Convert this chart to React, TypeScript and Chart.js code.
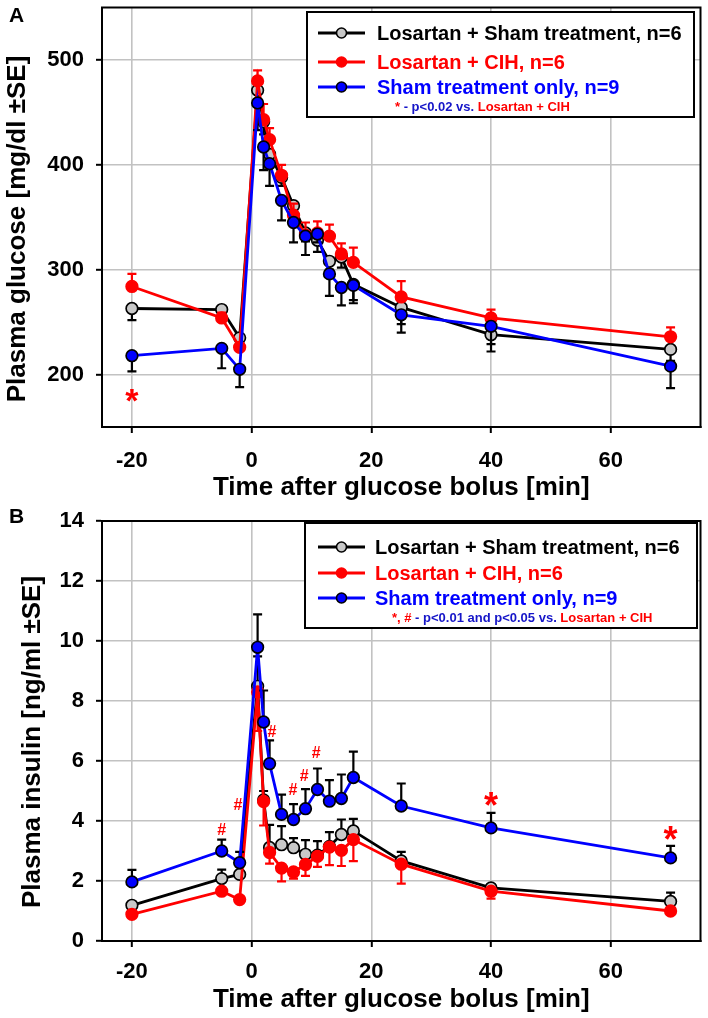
import React, { useEffect, useRef } from "react";
import { Chart, registerables } from "chart.js";

Chart.register(...registerables);

const FONT = "'Liberation Sans', Arial, Helvetica, sans-serif";

// ---------- data ----------
const times = [-20, -5, -2, 1, 2, 3, 5, 7, 9, 11, 13, 15, 17, 25, 40, 70];
const xTicks = [-20, 0, 20, 40, 60];

const seriesLabels = ["Losartan + Sham treatment, n=6", "Losartan + CIH, n=6", "Sham treatment only, n=9"];

// Panel A: plasma glucose [mg/dl]
const glucoseLosartanSham = [263, 262, 235, 471, 441, 410, 388, 361, 335, 328, 308, 312, 286, 264, 238, 224];
const glucoseLosartanShamSE = [11, 3, 5, 12, 12, 10, 8, 8, 8, 11, 8, 10, 18, 16, 9, 11];
const glucoseLosartanCIH = [284, 254, 226, 480, 443, 424, 390, 352, 333, 335, 332, 315, 307, 274, 254, 236];
const glucoseLosartanCIHSE = [12, 5, 4, 10, 15, 11, 10, 11, 12, 11, 11, 10, 14, 15, 8, 9];
const glucoseShamOnly = [218, 225, 205, 459, 417, 401, 366, 345, 332, 334, 296, 283, 285, 257, 246, 208];
const glucoseShamOnlySE = [15, 19, 17, 26, 22, 21, 19, 19, 18, 8, 21, 17, 14, 17, 24, 21];
const glucoseYTicks = [200, 300, 400, 500];
const glucoseStars = [{ x: -20, y: 183 }];

// Panel B: plasma insulin [ng/ml]
const insulinLosartanSham = [1.19, 2.08, 2.22, 8.49, 4.7, 3.12, 3.21, 3.11, 2.89, 2.86, 3.15, 3.55, 3.67, 2.67, 1.77, 1.32];
const insulinLosartanShamSE = [0.1, 0.3, 0.1, 1.0, 0.3, 0.75, 0.62, 0.32, 0.47, 0.47, 0.48, 0.5, 0.4, 0.3, 0.1, 0.29];
const insulinLosartanCIH = [0.89, 1.66, 1.38, 8.3, 4.65, 2.95, 2.43, 2.3, 2.55, 2.82, 3.13, 3.02, 3.38, 2.56, 1.66, 1.0];
const insulinLosartanCIHSE = [0.08, 0.08, 0.08, 1.3, 0.8, 0.37, 0.44, 0.22, 0.38, 0.35, 0.6, 0.52, 0.72, 0.65, 0.25, 0.05];
const insulinShamOnly = [1.97, 3.0, 2.61, 9.79, 7.3, 5.91, 4.22, 4.05, 4.41, 5.05, 4.66, 4.75, 5.45, 4.5, 3.77, 2.77];
const insulinShamOnlySE = [0.4, 0.38, 0.36, 1.1, 1.05, 0.78, 0.66, 0.51, 0.65, 0.7, 0.7, 0.8, 0.86, 0.75, 0.5, 0.4];
const insulinYTicks = [0, 2, 4, 6, 8, 10, 12, 14];
const insulinStars = [{ x: 40, y: 4.78 }, { x: 70, y: 3.65 }];
const insulinHashes = [
  { x: -5, y: 3.71 },
  { x: -2.3, y: 4.56 },
  { x: 3.4, y: 6.99 },
  { x: 6.9, y: 5.06 },
  { x: 8.8, y: 5.52 },
  { x: 10.8, y: 6.28 },
];

// ---------- styles ----------
const lineColors = ["#000000", "#ff0000", "#0000ff"];
const markerFill = ["#c8c8c8", "#ff0000", "#0000ff"];
const markerBorder = ["#000000", "#ff0000", "#000000"];
const errorColors = ["#000000", "#ff0000", "#000000"];
const legendTextColors = ["#000000", "#ff0000", "#0000ff"];
const NOTE_BLUE = "#1515c8";

function makeDatasets(values: number[][], ses: number[][], dirs: number[]) {
  return values.map((vals, k) => ({
    label: seriesLabels[k],
    data: times.map((t, i) => ({ x: t, y: vals[i] })),
    borderColor: lineColors[k],
    backgroundColor: markerFill[k],
    pointBackgroundColor: markerFill[k],
    pointBorderColor: markerBorder[k],
    pointRadius: 5.8,
    pointBorderWidth: 1.7,
    borderWidth: 2.8,
    tension: 0,
    order: 3 - k,
    errors: ses[k],
    errorDir: dirs[k],
    errorColor: errorColors[k],
  }));
}

const errorBarPlugin = {
  id: "errorBars",
  beforeDatasetDraw(chart: any, args: any) {
    const ds = chart.data.datasets[args.index];
    if (!ds.errors) return;
    const ys = chart.scales.y;
    const ctx = chart.ctx;
    ctx.save();
    ctx.strokeStyle = ds.errorColor;
    ctx.lineWidth = 2.2;
    args.meta.data.forEach((pt: any, i: number) => {
      const v = ds.data[i].y;
      const yEnd = ys.getPixelForValue(v + ds.errorDir * ds.errors[i]);
      ctx.beginPath();
      ctx.moveTo(pt.x, pt.y);
      ctx.lineTo(pt.x, yEnd);
      ctx.moveTo(pt.x - 4.5, yEnd);
      ctx.lineTo(pt.x + 4.5, yEnd);
      ctx.stroke();
    });
    ctx.restore();
  },
};

const decorPlugin = {
  id: "decor",
  afterDraw(chart: any, _args: any, o: any) {
    const { ctx, chartArea: a } = chart;
    const xs = chart.scales.x;
    const ys = chart.scales.y;
    ctx.save();
    // frame
    ctx.strokeStyle = "#000";
    ctx.lineWidth = 2;
    ctx.strokeRect(a.left, a.top, a.right - a.left, a.bottom - a.top);

    // significance marks
    (o.marks || []).forEach((m: any) => {
      ctx.fillStyle = "#ff0000";
      ctx.font = `bold ${m.size}px ${FONT}`;
      ctx.textAlign = "center";
      ctx.textBaseline = "alphabetic";
      m.points.forEach((p: any) => {
        ctx.fillText(m.text, xs.getPixelForValue(p.x), ys.getPixelForValue(p.y) + m.size * m.lift);
      });
    });

    // panel letter
    ctx.fillStyle = "#000";
    ctx.font = `bold 21px ${FONT}`;
    ctx.textAlign = "left";
    ctx.textBaseline = "alphabetic";
    ctx.fillText(o.letter.text, o.letter.x, o.letter.y);

    // y title
    ctx.save();
    ctx.translate(o.yTitle.x, o.yTitle.y);
    ctx.rotate(-Math.PI / 2);
    ctx.font = `bold 26px ${FONT}`;
    ctx.textAlign = "center";
    ctx.textBaseline = "middle";
    ctx.fillText(o.yTitle.text, 0, 0);
    ctx.restore();

    // legend
    const L = o.legend;
    ctx.fillStyle = "#fff";
    ctx.fillRect(L.x, L.y, L.w, L.h);
    ctx.strokeStyle = "#000";
    ctx.lineWidth = 2;
    ctx.strokeRect(L.x, L.y, L.w, L.h);
    seriesLabels.forEach((label, k) => {
      const y = L.rows[k];
      ctx.strokeStyle = lineColors[k];
      ctx.lineWidth = 2.8;
      ctx.beginPath();
      ctx.moveTo(L.lineX1, y);
      ctx.lineTo(L.lineX2, y);
      ctx.stroke();
      ctx.beginPath();
      ctx.arc((L.lineX1 + L.lineX2) / 2, y, 5, 0, Math.PI * 2);
      ctx.fillStyle = markerFill[k];
      ctx.fill();
      ctx.strokeStyle = markerBorder[k];
      ctx.lineWidth = 1.6;
      ctx.stroke();
      ctx.fillStyle = legendTextColors[k];
      ctx.font = `bold 20px ${FONT}`;
      ctx.textAlign = "left";
      ctx.textBaseline = "middle";
      ctx.fillText(label, L.textX, y + 1);
    });
    // note line
    let nx = L.noteX;
    ctx.font = `bold 13px ${FONT}`;
    ctx.textBaseline = "middle";
    ctx.textAlign = "left";
    L.note.forEach((seg: any) => {
      ctx.fillStyle = seg.color;
      ctx.fillText(seg.text, nx, L.noteY);
      nx += ctx.measureText(seg.text).width;
    });
    ctx.restore();
  },
};

function buildConfig(p: any) {
  const tickFont = { family: FONT, size: 22, weight: "bold" as const };
  return {
    type: "line" as const,
    data: { datasets: p.datasets },
    options: {
      responsive: false,
      animation: false as const,
      devicePixelRatio: 1,
      layout: { padding: { left: 0, right: 6, top: p.padTop, bottom: 0 } },
      plugins: {
        legend: { display: false },
        tooltip: { enabled: false },
        decor: p.decor,
      },
      scales: {
        x: {
          type: "linear" as const,
          min: -25,
          max: 75,
          afterBuildTicks: (s: any) => {
            s.ticks = xTicks.map((v) => ({ value: v }));
          },
          afterFit: (s: any) => {
            s.height = p.xAxisHeight;
            s.paddingLeft = 0;
            s.paddingRight = 0;
          },
          ticks: {
            font: tickFont,
            color: "#000",
            padding: p.xTickPad,
            maxRotation: 0,
            autoSkip: false,
            callback: (v: any) => String(v),
          },
          grid: { color: "#c2c2c2", lineWidth: 1.6, tickLength: 6, tickColor: "#000", tickWidth: 2 },
          border: { color: "#000", width: 2 },
          title: {
            display: true,
            text: "Time after glucose bolus [min]",
            color: "#000",
            font: { family: FONT, size: 26, weight: "bold" as const },
            padding: { top: 0, bottom: p.xTitlePad },
          },
        },
        y: {
          type: "linear" as const,
          min: p.yMin,
          max: p.yMax,
          afterBuildTicks: (s: any) => {
            s.ticks = p.yTicks.map((v: number) => ({ value: v }));
          },
          afterFit: (s: any) => {
            s.width = 102;
            s.paddingTop = 0;
            s.paddingBottom = 0;
          },
          ticks: {
            font: tickFont,
            color: "#000",
            padding: 12,
            autoSkip: false,
            callback: (v: any) => String(v),
          },
          grid: { color: "#c2c2c2", lineWidth: 1.6, tickLength: 6, tickColor: "#000", tickWidth: 2 },
          border: { color: "#000", width: 2 },
          title: { display: false },
        },
      },
    },
    plugins: [errorBarPlugin, decorPlugin],
  };
}

const panelA = {
  datasets: makeDatasets(
    [glucoseLosartanSham, glucoseLosartanCIH, glucoseShamOnly],
    [glucoseLosartanShamSE, glucoseLosartanCIHSE, glucoseShamOnlySE],
    [-1, 1, -1]
  ),
  yMin: 150,
  yMax: 550,
  yTicks: glucoseYTicks,
  padTop: 7,
  xAxisHeight: 73,
  xTickPad: 15,
  xTitlePad: -3,
  decor: {
    letter: { text: "A", x: 9, y: 22 },
    yTitle: { text: "Plasma glucose [mg/dl ±SE]", x: 18, y: 229 },
    marks: [{ text: "*", size: 34, lift: 0.58, points: glucoseStars }],
    legend: {
      x: 307, y: 12, w: 387, h: 105,
      rows: [33, 62, 87],
      lineX1: 318, lineX2: 365, textX: 377,
      noteX: 395, noteY: 107,
      note: [
        { text: "*", color: "#ff0000" },
        { text: " - p<0.02 vs. ", color: NOTE_BLUE },
        { text: "Losartan + CIH", color: "#ff0000" },
      ],
    },
  },
};

const panelB = {
  datasets: makeDatasets(
    [insulinLosartanSham, insulinLosartanCIH, insulinShamOnly],
    [insulinLosartanShamSE, insulinLosartanCIHSE, insulinShamOnlySE],
    [1, -1, 1]
  ),
  yMin: 0,
  yMax: 14,
  yTicks: insulinYTicks,
  padTop: 21,
  xAxisHeight: 77,
  xTickPad: 12,
  xTitlePad: 3,
  decor: {
    letter: { text: "B", x: 9, y: 23 },
    yTitle: { text: "Plasma insulin [ng/ml ±SE]", x: 33, y: 242 },
    marks: [
      { text: "*", size: 36, lift: 0.58, points: insulinStars },
      { text: "#", size: 16, lift: 0.36, points: insulinHashes },
    ],
    legend: {
      x: 305, y: 23, w: 392, h: 105,
      rows: [47, 73, 98],
      lineX1: 318, lineX2: 365, textX: 375,
      noteX: 392, noteY: 118,
      note: [
        { text: "*, #", color: "#ff0000" },
        { text: " - p<0.01 and p<0.05 vs. ", color: NOTE_BLUE },
        { text: "Losartan + CIH", color: "#ff0000" },
      ],
    },
  },
};

function ChartCanvas({ spec, width, height, top }: { spec: any; width: number; height: number; top: number }) {
  const ref = useRef<HTMLCanvasElement | null>(null);
  useEffect(() => {
    if (!ref.current) return;
    const chart = new Chart(ref.current, buildConfig(spec) as any);
    return () => chart.destroy();
  }, [spec]);
  return (
    <canvas
      ref={ref}
      width={width}
      height={height}
      style={{ position: "absolute", left: 0, top, width, height, display: "block" }}
    />
  );
}

export default function App() {
  return (
    <div style={{ position: "absolute", left: 0, top: 0, width: 708, height: 1018, background: "#fff" }}>
      <ChartCanvas spec={panelA} width={708} height={500} top={0} />
      <ChartCanvas spec={panelB} width={708} height={518} top={500} />
    </div>
  );
}
